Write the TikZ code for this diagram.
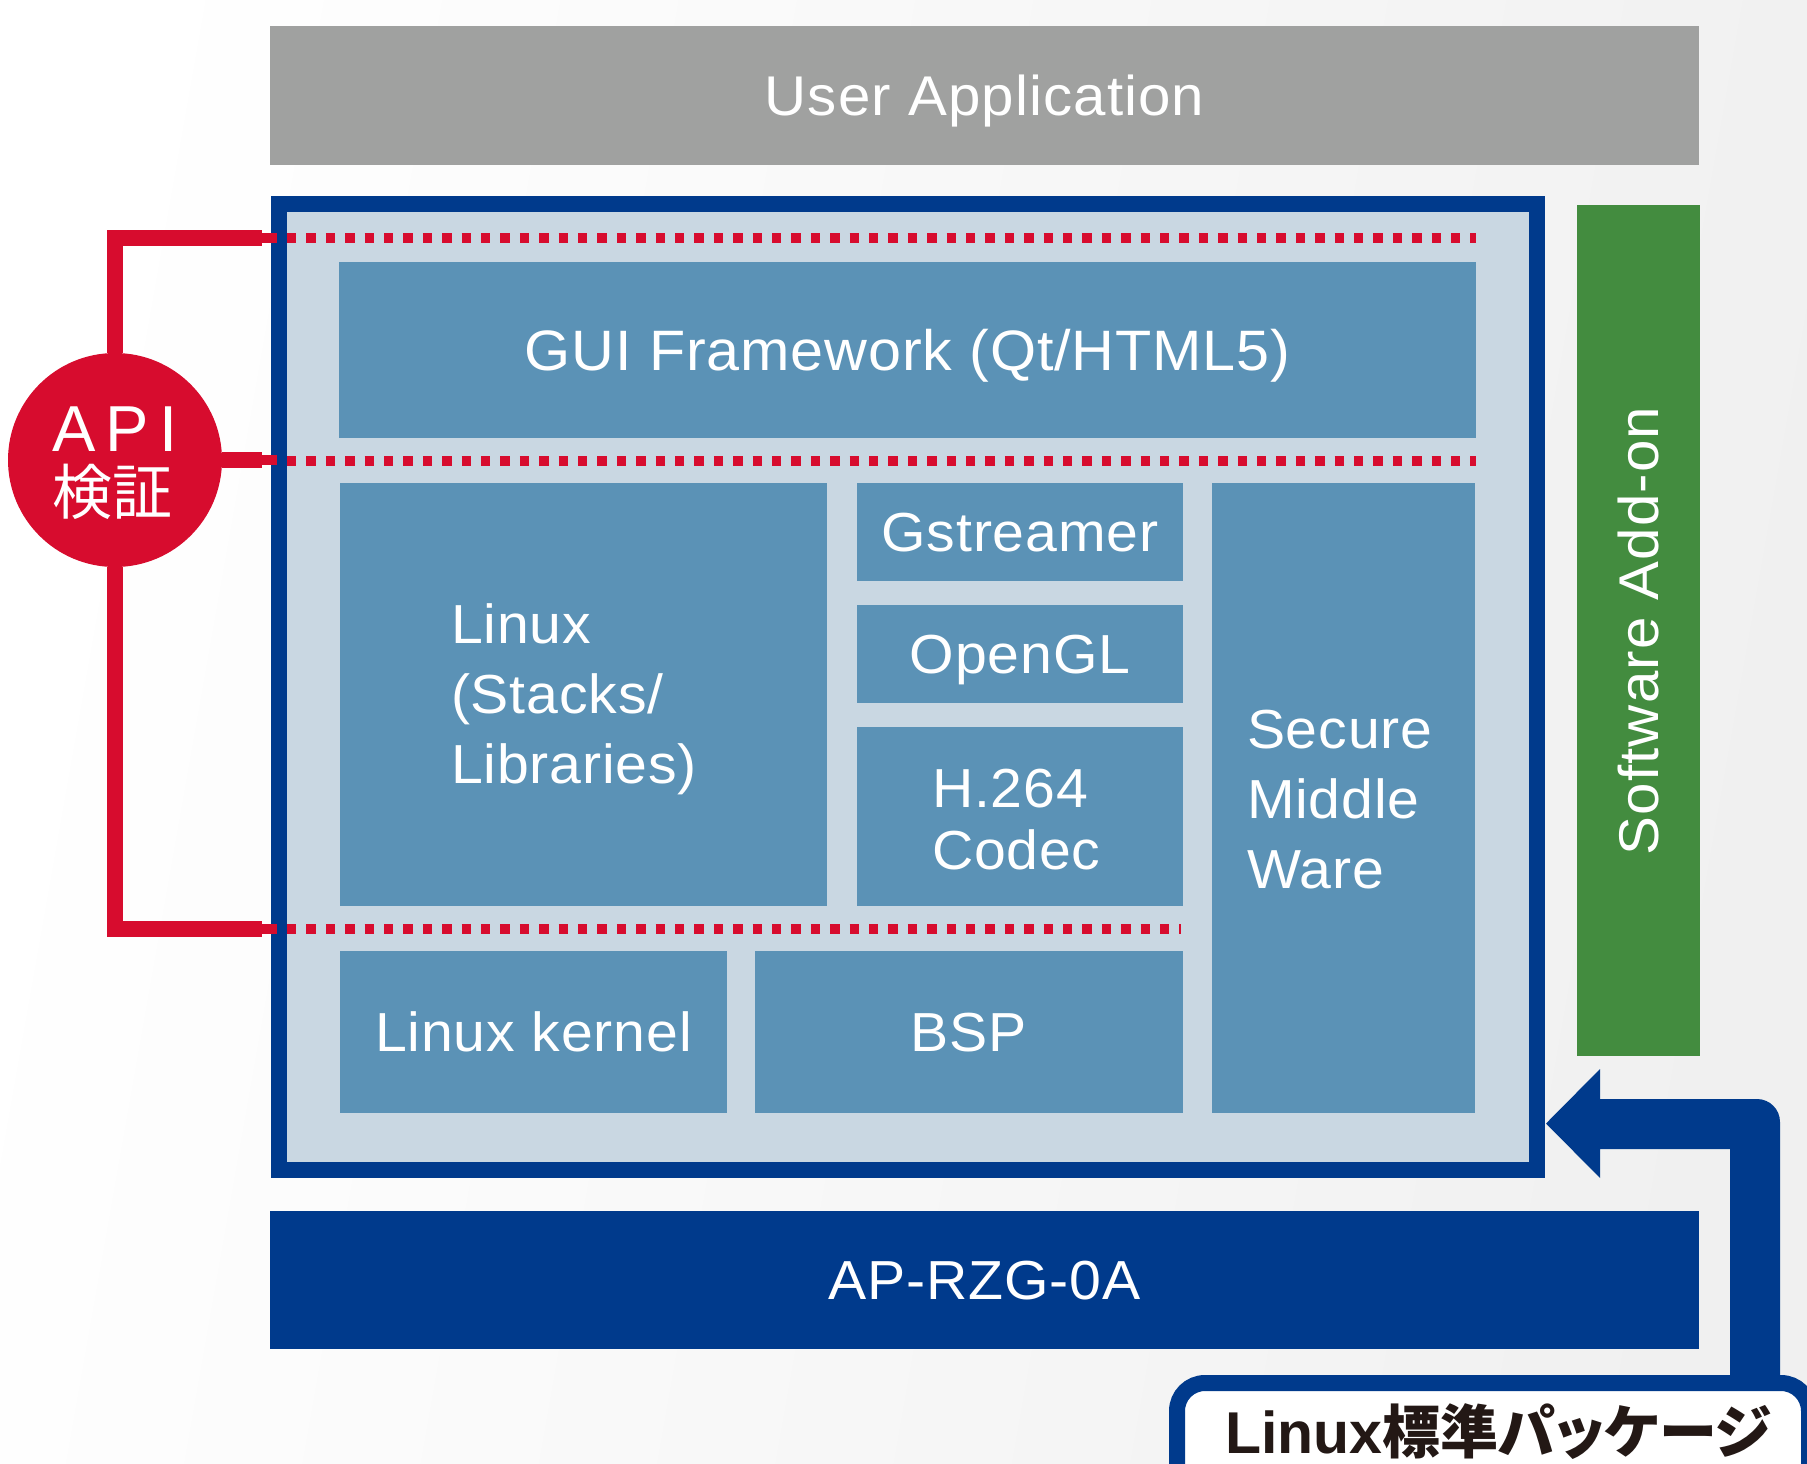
\documentclass[tikz,border=0pt]{standalone}
\usepackage{fontspec}
\setmainfont{Liberation Sans}
\newfontfamily\cjk{Noto Sans CJK JP}
\newfontfamily\cjkp{Noto Sans CJK JP}[RawFeature=+palt]
\definecolor{uagray}{RGB}{160,161,160}
\definecolor{dkblue}{RGB}{0,58,140}
\definecolor{ltblue}{RGB}{201,215,226}
\definecolor{midblue}{RGB}{91,146,182}
\definecolor{addgreen}{RGB}{67,140,63}
\definecolor{apired}{RGB}{215,12,46}
\definecolor{lblack}{RGB}{35,24,21}
\definecolor{bggray}{RGB}{240,240,240}
\newcommand\bxf{\fontsize{55pt}{70pt}\selectfont\addfontfeatures{FakeStretch=1.04,LetterSpace=1.5}}
\newcommand\bigf{\fontsize{56pt}{70pt}\selectfont\addfontfeatures{FakeStretch=1.04,LetterSpace=2}}
\newcommand\guif{\fontsize{57pt}{70pt}\selectfont\addfontfeatures{FakeStretch=1.04,LetterSpace=1.5}}
\begin{document}
\begin{tikzpicture}[x=1pt,y=-1pt,
  box/.style={rectangle, inner sep=0pt, outer sep=0pt, draw=none, text=white, font=\bxf, text height=39pt, text depth=0pt},
  blk/.style={box, fill=midblue},
  txt/.style={inner sep=0pt, outer sep=0pt, text=white, font=\bxf, align=left},
  dotln/.style={draw=apired, line width=10pt, dash pattern=on 9.4pt off 10pt},
  redln/.style={draw=apired, line width=16pt},
]
\useasboundingbox (0,0) rectangle (1807,1464);
\clip (0,0) rectangle (1807,1464);
\shade[left color=white, right color=bggray, shading angle=80] (0,0) rectangle (1807,1464);

% top / side / bottom bars
\node[box, fill=uagray, font=\bigf, minimum width=1429pt, minimum height=139pt] (ua) at (984.5,95.5) {User Application};
\node[box, fill=addgreen, minimum width=123pt, minimum height=851pt] (addon) at (1638,630.5) {};
\node[inner sep=0pt, text=white, font=\bigf, rotate=90] (addontxt) at (1638,631) {Software Add-on};
\node[box, fill=dkblue, minimum width=1429pt, minimum height=138pt] (ap) at (984.5,1280) {AP-RZG-0A};

% frame
\node[rectangle, draw=dkblue, line width=16pt, fill=ltblue, inner sep=0pt, minimum width=1258pt, minimum height=966pt] (frame) at (907.5,687) {};

% inner blocks
\node[blk, font=\guif, text height=40pt, minimum width=1137pt, minimum height=176pt] (gui) at (907.5,350) {GUI Framework (Qt/HTML5)};
\node[blk, minimum width=487pt, minimum height=423pt] (stack) at (583.5,694.5) {};
\node[txt, anchor=base west] (stacktxt) at (451,783) {Linux\\(Stacks/\\Libraries)};
\node[blk, minimum width=326pt, minimum height=98pt] (gst) at (1020,532) {Gstreamer};
\node[blk, minimum width=326pt, minimum height=98pt] (ogl) at (1020,654) {OpenGL};
\node[blk, minimum width=326pt, minimum height=179pt] (h264) at (1020,816.5) {};
\node[txt, anchor=base west, font=\fontsize{55pt}{62pt}\selectfont\addfontfeatures{FakeStretch=1.04,LetterSpace=1.5}] (h264txt) at (932,869) {H.264\\Codec};
\node[blk, minimum width=263pt, minimum height=630pt] (sec) at (1343.5,798) {};
\node[txt, anchor=base west] (sectxt) at (1247,888) {Secure\\Middle\\Ware};
\node[blk, minimum width=387pt, minimum height=162pt] (kern) at (533.5,1032) {Linux kernel};
\node[blk, minimum width=428pt, minimum height=162pt] (bsp) at (969,1032) {BSP};

% dotted API boundaries
\coordinate (d1s) at (287,238);  \coordinate (d1e) at (1476,238);
\coordinate (d2s) at (287,461);  \coordinate (d2e) at (1476,461);
\coordinate (d3s) at (287,929);  \coordinate (d3e) at (1181,929);
\draw[dotln] (d1s) -- (d1e);
\draw[dotln] (d2s) -- (d2e);
\draw[dotln] (d3s) -- (d3e);

% API verification marker
\node[circle, fill=apired, minimum size=214pt, inner sep=0pt] (api) at (115,460) {};
\coordinate (c1) at (262,238); \coordinate (t1) at (277,238);
\coordinate (c2) at (262,460); \coordinate (t2) at (277,460);
\coordinate (c3) at (262,929); \coordinate (t3) at (277,929);
\draw[redln] (api.north) |- (c1);
\draw[redln] (api.east) -- (c2);
\draw[redln] (api.south) |- (c3);
\draw[apired, line width=10pt] (c1) -- (t1);
\draw[apired, line width=10pt] (c2) -- (t2);
\draw[apired, line width=10pt] (c3) -- (t3);
\node[inner sep=0pt, text=white, anchor=base, text height=46pt, text depth=0pt, font=\fontsize{65pt}{70pt}\selectfont\addfontfeatures{LetterSpace=15}] (apitxt) at (115,451) {API};
\node[inner sep=0pt, text=white, anchor=base, text height=48pt, text depth=5pt, font=\fontsize{60pt}{70pt}\selectfont\cjk] (kenshou) at (112,514) {検証};

% package label and arrow
\fill[dkblue] (1546,1123.5) -- (1600,1069) -- (1600,1099) -- (1757,1099)
  arc[start angle=-90, end angle=0, radius=23] -- (1780,1395) -- (1730,1395)
  -- (1730,1149) -- (1600,1149) -- (1600,1178) -- cycle;
\node[rectangle, rounded corners=28pt, draw=dkblue, line width=16pt, fill=white, inner sep=0pt, outer sep=0pt, minimum width=632pt, minimum height=140pt, anchor=north west] (pkg) at (1177,1383) {};
\node[inner sep=0pt, anchor=base west, text=lblack] (pkgtxt) at (1225,1453)
  {\fontsize{59pt}{60pt}\selectfont\bfseries Linux{\cjkp\fontsize{58pt}{60pt}\selectfont 標準パッケージ}};
\end{tikzpicture}
\end{document}
